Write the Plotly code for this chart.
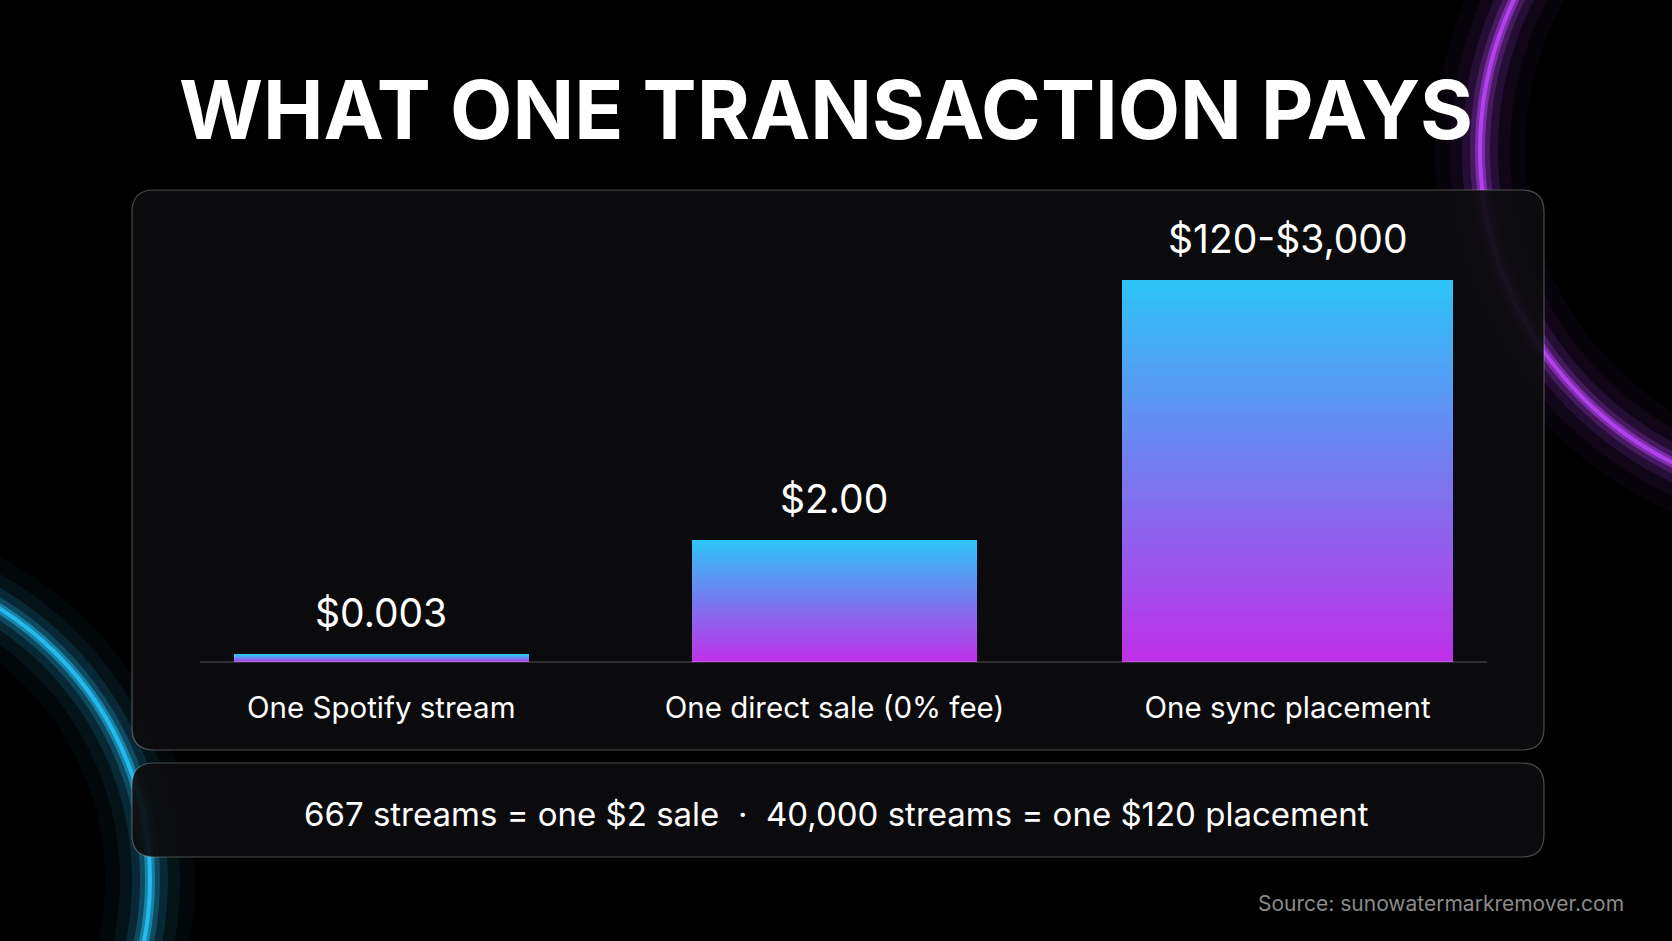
import plotly.graph_objects as go

categories = ["One Spotify stream", "One direct sale (0% fee)", "One sync placement"]
value_labels = ["$0.003", "$2.00", "$120-$3,000"]
bar_heights = [0.02, 0.32, 1.0]   # relative drawn heights
footnote = "667 streams = one $2 sale  ·  40,000 streams = one $120 placement"
source = "Source: sunowatermarkremover.com"
title = "WHAT ONE TRANSACTION PAYS"

W, H = 1672, 941
L, R, T, B = 200, 1487, 280, 662
def px(x): return (x - L) / (R - L)
def py(y): return (B - y) / (B - T)

def rrect(x0, y0, x1, y1, r):
    X0, X1, Y0, Y1 = px(x0), px(x1), py(y1), py(y0)
    rx, ry = r / (R - L), r / (B - T)
    return (f"M{X0+rx},{Y0} L{X1-rx},{Y0} Q{X1},{Y0} {X1},{Y0+ry} L{X1},{Y1-ry} "
            f"Q{X1},{Y1} {X1-rx},{Y1} L{X0+rx},{Y1} Q{X0},{Y1} {X0},{Y1-ry} "
            f"L{X0},{Y0+ry} Q{X0},{Y0} {X0+rx},{Y0} Z")

def mix(c1, c2, t):
    return "rgb(%d,%d,%d)" % tuple(int(a + (b - a) * t) for a, b in zip(c1, c2))
top_c, bot_c = (46, 197, 248), (192, 48, 232)

fig = go.Figure()
N = 40
for k in range(N):
    t = (k + 0.5) / N
    c = mix(top_c, bot_c, 1 - t)
    fig.add_trace(go.Bar(
        x=[0, 1, 2], y=[h / N for h in bar_heights],
        marker=dict(color=[c, c, c], line=dict(width=0)),
        width=[0.65, 0.63, 0.73], hoverinfo="skip", showlegend=False))

shapes = []
for (cx, cy, r, col) in [(1830, 150, 350, "190,70,255"), (-170, 880, 320, "40,200,255")]:
    for w, op in [(90, 0.04), (60, 0.06), (36, 0.12), (20, 0.22), (10, 0.45), (4, 0.8)]:
        shapes.append(dict(type="circle", xref="paper", yref="paper",
                           x0=px(cx - r), x1=px(cx + r), y0=py(cy + r), y1=py(cy - r),
                           line=dict(color=f"rgba({col},{op})", width=w), layer="below"))
shapes.append(dict(type="path", xref="paper", yref="paper", path=rrect(132, 190, 1544, 750, 22),
                   fillcolor="rgba(12,12,14,0.92)", line=dict(color="rgba(255,255,255,0.28)", width=1.2), layer="below"))
shapes.append(dict(type="path", xref="paper", yref="paper", path=rrect(132, 763, 1544, 857, 22),
                   fillcolor="rgba(12,12,14,0.92)", line=dict(color="rgba(255,255,255,0.28)", width=1.2), layer="below"))
shapes.append(dict(type="line", xref="paper", yref="paper", x0=0, x1=1, y0=0, y1=0,
                   line=dict(color="rgba(255,255,255,0.3)", width=1.2)))

ann = [dict(x=i, y=h, text=lab, showarrow=False, yanchor="bottom", yshift=16,
            font=dict(size=39, color="white", family="Inter"))
       for i, (h, lab) in enumerate(zip(bar_heights, value_labels))]
ann.append(dict(x=px(826), y=py(110), xref="paper", yref="paper", yanchor="middle", text=f"<b>{title}</b>",
                showarrow=False, font=dict(size=81, color="white", family="Inter")))
ann.append(dict(x=px(836), y=py(814), xref="paper", yref="paper", yanchor="middle", text=footnote,
                showarrow=False, font=dict(size=33, color="white", family="Inter")))
ann.append(dict(x=px(1626), y=py(903), xref="paper", yref="paper", yanchor="middle", text=source,
                showarrow=False, xanchor="right", font=dict(size=21, color="#8a8a8a", family="Inter")))

fig.update_layout(
    width=W, height=H, barmode="stack", bargap=0,
    margin=dict(l=L, r=W - R, t=T, b=H - B),
    paper_bgcolor="#000", plot_bgcolor="rgba(0,0,0,0)",
    shapes=shapes, annotations=ann,
    xaxis=dict(range=[-0.4, 2.44], tickvals=[0, 1, 2], ticktext=categories, showgrid=False,
               zeroline=False, showline=False, tickfont=dict(size=29.5, color="white", family="Inter"),
               ticks="outside", ticklen=20, tickcolor="rgba(0,0,0,0)", fixedrange=True),
    yaxis=dict(range=[0, 1], visible=False, fixedrange=True),
)
fig.write_html("out.html", config={"displayModeBar": False},
               post_script="document.body.style.margin='0';document.body.style.background='#000';")
